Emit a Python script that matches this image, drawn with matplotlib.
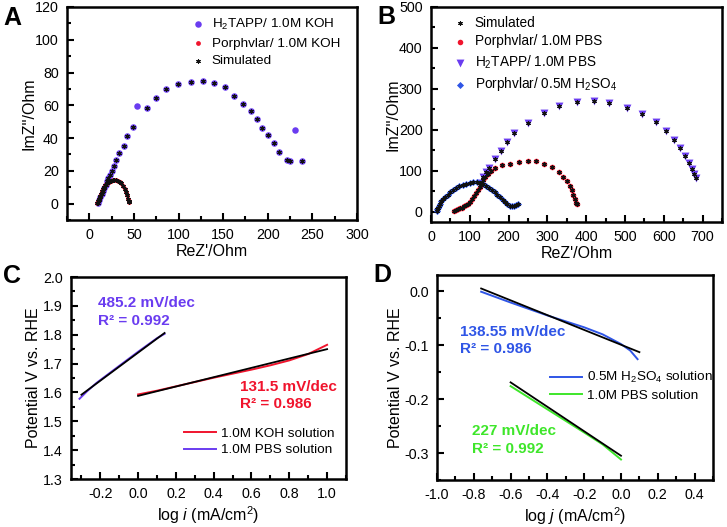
import matplotlib
matplotlib.use("Agg")
import matplotlib.pyplot as plt
from matplotlib.ticker import MultipleLocator

plt.rcParams['font.family'] = ['Liberation Sans', 'DejaVu Sans']
plt.rcParams['mathtext.fontset'] = 'custom'
plt.rcParams['mathtext.rm'] = 'Liberation Sans'
plt.rcParams['mathtext.it'] = 'Liberation Sans:italic'
plt.rcParams['mathtext.bf'] = 'Liberation Sans:bold'

PURPLE = '#6a3cf0'
RED = '#f0142d'
BLUE = '#2f55e6'
GREEN = '#3ee62a'

# ---------------- Panel A data ----------------
a_tapp_x = [9.7, 11, 12.5, 14, 15.5, 17, 18.5, 20, 21.5, 23, 25, 27.7, 30.3, 33.7, 38.6, 42.7, 49,
            64.8, 74.2, 86.5, 98.9, 113.5, 127, 140, 152, 162.2, 172.3, 181, 188, 193.3, 200.4,
            207.5, 212.4, 221, 224.4, 238.2]
a_tapp_y = [0.5, 2, 3.8, 5.6, 7.5, 9.5, 11.5, 13.5, 15.5, 17.5, 19.8, 23, 26.5, 31, 35.3, 41.2, 47,
            58.6, 64.3, 69.8, 72.9, 74.1, 75.1, 73.7, 71, 65.7, 61, 56.7, 51.4, 46.1, 41.8,
            37.1, 31.8, 26.5, 25.9, 25.9]
a_tapp_out_x = [53.9, 231]
a_tapp_out_y = [59.6, 44.7]
a_porph_x = [9, 10, 11, 12, 13, 14, 15, 16.5, 18, 20, 22, 24, 26, 28, 30, 32, 34, 36, 38, 40,
             41.5, 42.5, 43.5, 44.5, 45]
a_porph_y = [0.5, 1.5, 3, 4.5, 6, 7.5, 8.8, 10, 11.2, 12.3, 13.2, 13.8, 14.2, 14.4, 14.3, 14,
             13.3, 12.3, 10.8, 9, 7, 5, 3, 1.5, 0.8]

# ---------------- Panel B data ----------------
b_tapp_x = [125, 135, 142, 150, 165, 180, 195, 215, 250, 290, 330, 375, 420, 460, 505, 545, 580,
            605, 625, 643, 655, 665, 672, 678, 683]
b_tapp_y = [70, 85, 97, 108, 128, 148, 170, 192, 216, 240, 258, 267, 270, 265, 253, 238, 218,
            197, 175, 155, 137, 120, 104, 92, 82]
b_porph_x = [60, 65, 70, 75, 80, 85, 90, 95, 100, 105, 110, 115, 120, 125, 130, 135, 140, 147,
             155, 165, 182, 204, 228, 250, 271, 292, 312, 329, 341, 350, 358, 363, 367, 371, 373,
             375]
b_porph_y = [3, 4, 6, 8, 10, 13, 16, 20, 25, 31, 38, 45, 53, 61, 69, 77, 85, 92,
             100, 108, 114, 117, 121, 125, 124, 117, 109, 98, 85, 74, 63, 53, 41, 30, 22, 20]
b_acid_x = [15, 16, 18, 20, 23, 27, 32, 37, 43, 50, 57, 65, 73, 82, 91, 100, 109, 118, 127, 135,
            143, 150, 157, 164, 171, 178, 185, 191, 197, 203, 209, 215, 220, 225]
b_acid_y = [2, 6, 10, 15, 20, 26, 32, 37, 42, 48, 53, 58, 62, 66, 69, 71, 72, 72, 70, 67,
            63, 59, 54, 48, 42, 36, 29, 23, 18, 15, 14, 15, 17, 20]

# ---------------- Panel C data ----------------
c_koh_x = [0.0, 0.1, 0.2, 0.3, 0.4, 0.5, 0.6, 0.7, 0.8, 0.9, 1.0]
c_koh_y = [1.593, 1.606, 1.621, 1.636, 1.651, 1.665, 1.679, 1.694, 1.711, 1.733, 1.765]
c_koh_fit_x = [0.0, 1.0]
c_koh_fit_y = [1.588, 1.750]
c_pbs_x = [-0.31, -0.27, -0.22, -0.1, 0.0, 0.1, 0.14]
c_pbs_y = [1.578, 1.604, 1.633, 1.692, 1.741, 1.788, 1.803]
c_pbs_fit_x = [-0.30, 0.14]
c_pbs_fit_y = [1.592, 1.806]

# ---------------- Panel D data ----------------
d_acid_x = [-0.76, -0.6, -0.4, -0.2, -0.1, 0.0, 0.05, 0.09]
d_acid_y = [-0.001, -0.021, -0.045, -0.067, -0.080, -0.098, -0.110, -0.126]
d_acid_fit_x = [-0.76, 0.10]
d_acid_fit_y = [0.005, -0.113]
d_pbs_x = [-0.6, -0.4, -0.2, -0.1, 0.0]
d_pbs_y = [-0.176, -0.219, -0.262, -0.284, -0.312]
d_pbs_fit_x = [-0.6, 0.0]
d_pbs_fit_y = [-0.169, -0.305]

W, H = 727, 527
fig = plt.figure(figsize=(W / 100, H / 100), dpi=100)


def axes_px(l, r, t, b):
    return fig.add_axes([l / W, 1 - b / H, (r - l) / W, (b - t) / H])


def style(ax):
    for s in ax.spines.values():
        s.set_linewidth(1.8)
    ax.tick_params(which='both', direction='in', top=False, right=False, width=1.5,
                   labelsize=10.3, pad=6)
    ax.tick_params(which='major', length=5)
    ax.tick_params(which='minor', length=3)


LAB = 11.5
STAR = (6, 2, 0)

# Panel A
axA = axes_px(67, 357, 7, 220)
axA.scatter(a_tapp_x, a_tapp_y, s=22, color=PURPLE, zorder=2, label='H$_2$TAPP/ 1.0M KOH', linewidths=0)
axA.scatter(a_tapp_out_x, a_tapp_out_y, s=22, color=PURPLE, zorder=2, linewidths=0)
axA.scatter(a_porph_x, a_porph_y, s=12, color=RED, zorder=2, label='Porphvlar/ 1.0M KOH', linewidths=0)
axA.scatter(a_tapp_x + a_porph_x, a_tapp_y + a_porph_y, s=7, marker=STAR, color='#111111',
            zorder=3, label='Simulated', linewidths=0.8)
axA.set_xlim(-25, 300)
axA.set_ylim(-10, 120)
axA.xaxis.set_major_locator(MultipleLocator(50))
axA.xaxis.set_minor_locator(MultipleLocator(25))
axA.yaxis.set_major_locator(MultipleLocator(20))
axA.yaxis.set_minor_locator(MultipleLocator(10))
style(axA)
axA.set_xlabel("ReZ'/Ohm", fontsize=LAB, labelpad=1)
axA.set_ylabel("ImZ''/Ohm", fontsize=LAB, labelpad=-1)
axA.legend(loc='upper left', bbox_to_anchor=(0.43, 0.955), frameon=False, fontsize=9.7,
           handlelength=1.0, handletextpad=0.5, labelspacing=0.4, borderpad=0, borderaxespad=0)

# Panel B
axB = axes_px(431, 722, 7, 222)
hB_p = axB.scatter(b_porph_x, b_porph_y, s=16, color=RED, zorder=2, linewidths=0)
hB_t = axB.scatter(b_tapp_x, b_tapp_y, s=32, marker='v', color=PURPLE, zorder=2, linewidths=0)
hB_a = axB.scatter(b_acid_x, b_acid_y, s=13, marker='D', color=BLUE, zorder=2, linewidths=0)
hB_s = axB.scatter(b_porph_x + b_tapp_x + b_acid_x, b_porph_y + b_tapp_y + b_acid_y, s=7,
                   marker=STAR, color='#111111', zorder=3, linewidths=0.8)
axB.set_xlim(0, 750)
axB.set_ylim(-25, 500)
axB.xaxis.set_major_locator(MultipleLocator(100))
axB.xaxis.set_minor_locator(MultipleLocator(50))
axB.yaxis.set_major_locator(MultipleLocator(100))
axB.yaxis.set_minor_locator(MultipleLocator(50))
style(axB)
axB.set_xlabel("ReZ'/Ohm", fontsize=LAB, labelpad=1)
axB.set_ylabel("ImZ''/Ohm", fontsize=LAB, labelpad=-1)
axB.legend([hB_s, hB_p, hB_t, hB_a],
           ['Simulated', 'Porphvlar/ 1.0M PBS', 'H$_2$TAPP/ 1.0M PBS', 'Porphvlar/ 0.5M H$_2$SO$_4$'],
           loc='upper left', bbox_to_anchor=(0.075, 0.96), frameon=False, fontsize=9.8,
           handlelength=1.0, handletextpad=0.6, labelspacing=0.35, borderpad=0, borderaxespad=0)

# Panel C
axC = axes_px(71, 346, 277, 479)
axC.plot(c_koh_x, c_koh_y, color=RED, lw=1.4, label='1.0M KOH solution')
axC.plot(c_pbs_x, c_pbs_y, color=PURPLE, lw=1.4, label='1.0M PBS solution')
axC.plot(c_koh_fit_x, c_koh_fit_y, color='black', lw=1.3)
axC.plot(c_pbs_fit_x, c_pbs_fit_y, color='black', lw=1.3)
axC.set_xlim(-0.355, 1.1)
axC.set_ylim(1.3, 2.0)
axC.xaxis.set_minor_locator(MultipleLocator(0.1))
axC.yaxis.set_major_locator(MultipleLocator(0.1))
axC.yaxis.set_minor_locator(MultipleLocator(0.05))
axC.set_xticks([-0.2, 0.0, 0.2, 0.4, 0.6, 0.8, 1.0])
axC.set_xticklabels(['-0.2', '0.0', '0.2', '0.4', '0.6', '0.8', '1.0'])
style(axC)
axC.set_xlabel("log $i$ (mA/cm$^2$)", fontsize=LAB, labelpad=2)
axC.set_ylabel("Potential V vs. RHE", fontsize=LAB, labelpad=1)
axC.legend(loc='upper left', bbox_to_anchor=(0.41, 0.255), frameon=False, fontsize=9.7,
           handlelength=2.4, handletextpad=0.35, labelspacing=0.3, borderpad=0, borderaxespad=0)
TXT = 11
axC.text(0.098, 0.873, '485.2 mV/dec', transform=axC.transAxes, color=PURPLE, fontsize=TXT,
         fontweight='bold', va='center', ha='left')
axC.text(0.098, 0.782, 'R² = 0.992', transform=axC.transAxes, color=PURPLE, fontsize=TXT,
         fontweight='bold', va='center', ha='left')
axC.text(0.615, 0.457, '131.5 mV/dec', transform=axC.transAxes, color=RED, fontsize=TXT,
         fontweight='bold', va='center', ha='left')
axC.text(0.615, 0.371, 'R² = 0.986', transform=axC.transAxes, color=RED, fontsize=TXT,
         fontweight='bold', va='center', ha='left')

# Panel D
axD = axes_px(437, 713, 275, 480)
axD.plot(d_acid_x, d_acid_y, color=BLUE, lw=1.4, label='0.5M H$_2$SO$_4$ solution')
axD.plot(d_pbs_x, d_pbs_y, color=GREEN, lw=1.4, label='1.0M PBS solution')
axD.plot(d_acid_fit_x, d_acid_fit_y, color='black', lw=1.3)
axD.plot(d_pbs_fit_x, d_pbs_fit_y, color='black', lw=1.3)
axD.set_xlim(-1.0, 0.5)
axD.set_ylim(-0.35, 0.03)
axD.set_xticks([-1.0, -0.8, -0.6, -0.4, -0.2, 0.0, 0.2, 0.4])
axD.set_xticklabels(['-1.0', '-0.8', '-0.6', '-0.4', '-0.2', '0.0', '0.2', '0.4'])
axD.xaxis.set_minor_locator(MultipleLocator(0.1))
axD.set_yticks([0.0, -0.1, -0.2, -0.3])
axD.set_yticklabels(['0.0', '-0.1', '-0.2', '-0.3'])
axD.yaxis.set_minor_locator(MultipleLocator(0.05))
style(axD)
axD.set_xlabel("log $j$ (mA/cm$^2$)", fontsize=LAB, labelpad=2)
axD.set_ylabel("Potential V vs. RHE", fontsize=LAB, labelpad=1)
axD.legend(loc='upper left', bbox_to_anchor=(0.41, 0.535), frameon=False, fontsize=9.7,
           handlelength=2.4, handletextpad=0.35, labelspacing=0.3, borderpad=0, borderaxespad=0)
axD.text(0.083, 0.723, '138.55 mV/dec', transform=axD.transAxes, color=BLUE, fontsize=TXT,
         fontweight='bold', va='center', ha='left')
axD.text(0.083, 0.638, 'R² = 0.986', transform=axD.transAxes, color=BLUE, fontsize=TXT,
         fontweight='bold', va='center', ha='left')
axD.text(0.126, 0.24, '227 mV/dec', transform=axD.transAxes, color=GREEN, fontsize=TXT,
         fontweight='bold', va='center', ha='left')
axD.text(0.126, 0.151, 'R² = 0.992', transform=axD.transAxes, color=GREEN, fontsize=TXT,
         fontweight='bold', va='center', ha='left')

# Panel letters
for lab, (px, py) in {'A': (3, 18), 'B': (377, 17), 'C': (3, 276), 'D': (373, 275)}.items():
    fig.text(px / W, 1 - py / H, lab, fontsize=18, fontweight='bold', va='center', ha='left')

fig.savefig('out.png', dpi=100)
